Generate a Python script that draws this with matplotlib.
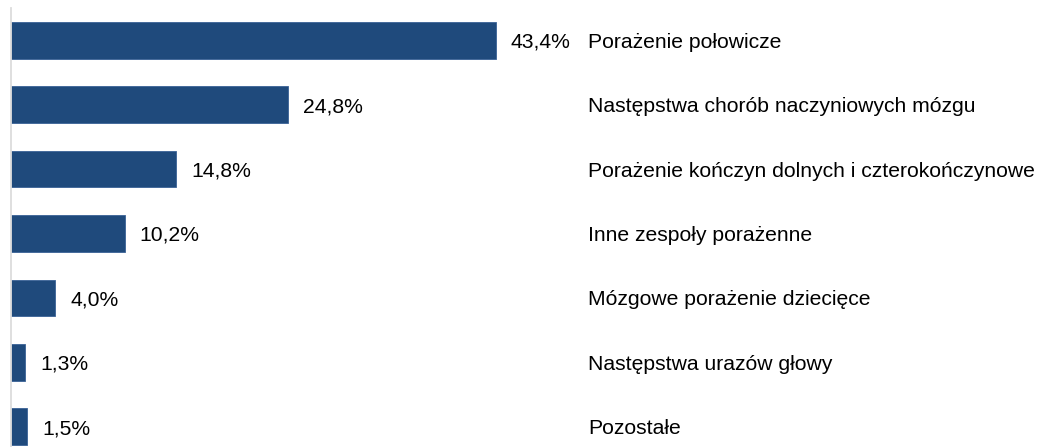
import matplotlib
matplotlib.use("Agg")
import matplotlib.pyplot as plt

categories = [
    "Porażenie połowicze",
    "Następstwa chorób naczyniowych mózgu",
    "Porażenie kończyn dolnych i czterokończynowe",
    "Inne zespoły porażenne",
    "Mózgowe porażenie dziecięce",
    "Następstwa urazów głowy",
    "Pozostałe",
]
values = [43.4, 24.8, 14.8, 10.2, 4.0, 1.3, 1.5]
value_labels = ["43,4%", "24,8%", "14,8%", "10,2%", "4,0%", "1,3%", "1,5%"]

plt.rcParams["font.family"] = ["Liberation Sans", "DejaVu Sans"]

W, H = 1039, 447
fig = plt.figure(figsize=(W / 100, H / 100), dpi=100)
# axes from x=10.5px to right edge, y from 8px to bottom
ax = fig.add_axes([10.5 / W, 0, 1 - 10.5 / W, (H - 8) / H])

px_per_pct = 11.18
ax.set_xlim(0, (W - 10.5) / px_per_pct)
ax.set_ylim(6.315, -0.502)

ypos = list(range(len(categories)))
ax.barh(ypos, values, height=0.57, color="#1F4A7C", edgecolor="#3A6296", linewidth=0.6)

fs = 15.2
for y, v, lab, cat in zip(ypos, values, value_labels, categories):
    ax.annotate(lab, (v, y + 0.03), xytext=(11, 0), textcoords="offset points",
                ha="left", va="center", fontsize=fs, color="black")
    ax.text((588 - 10.5) / px_per_pct, y + 0.03, cat, ha="left", va="center",
            fontsize=fs, color="black")

for s in ["top", "right", "bottom"]:
    ax.spines[s].set_visible(False)
ax.spines["left"].set_color("#DCDCDC")
ax.spines["left"].set_linewidth(1.3)
ax.set_xticks([])
ax.set_yticks([])

fig.savefig("out.png", dpi=100)
